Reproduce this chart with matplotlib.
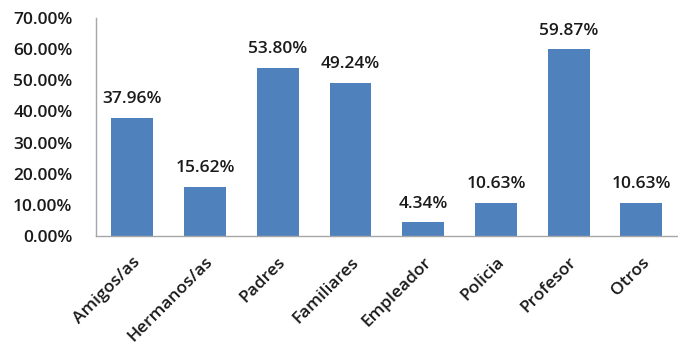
import matplotlib
matplotlib.use("Agg")
import matplotlib.pyplot as plt
from matplotlib.ticker import FuncFormatter, MultipleLocator

categories = ["Amigos/as", "Hermanos/as", "Padres", "Familiares",
              "Empleador", "Policia", "Profesor", "Otros"]
values = [37.96, 15.62, 53.80, 49.24, 4.34, 10.63, 59.87, 10.63]

plt.rcParams["font.family"] = ["Open Sans", "DejaVu Sans"]
FS = 12.5
TXT = "#1a1a1a"
WEIGHT = 600

fig = plt.figure(figsize=(6.78, 3.44), dpi=100)
ax = fig.add_axes([0.1416, 0.314, 0.858, 0.634])

bar_color = "#4F81BD"
x = range(len(categories))
ax.bar(x, values, width=0.575, color=bar_color)

for xi, v in zip(x, values):
    ax.text(xi, v + 3.5, f"{v:.2f}%", ha="center", va="bottom",
            fontsize=FS, color=TXT, fontweight=WEIGHT)

ax.set_xlim(-0.5, len(categories) - 0.5)
ax.set_ylim(0, 70)
ax.yaxis.set_major_locator(MultipleLocator(10))
ax.yaxis.set_major_formatter(FuncFormatter(lambda v, _: f"{v:.2f}%"))
ax.set_xticks(list(x))
ax.set_xticklabels(categories, rotation=45, ha="right",
                   rotation_mode="anchor", fontsize=FS, color=TXT,
                   fontweight=WEIGHT)
for lab in ax.get_yticklabels():
    lab.set_fontsize(FS)
    lab.set_color(TXT)
    lab.set_fontweight(WEIGHT)

ax.tick_params(axis="both", length=0)
ax.tick_params(axis="y", pad=17)
ax.tick_params(axis="x", pad=13)

for side in ("top", "right"):
    ax.spines[side].set_visible(False)
for side in ("left", "bottom"):
    ax.spines[side].set_color("#A6A6A6")
    ax.spines[side].set_linewidth(1.0)

fig.savefig("out.png", dpi=100)
